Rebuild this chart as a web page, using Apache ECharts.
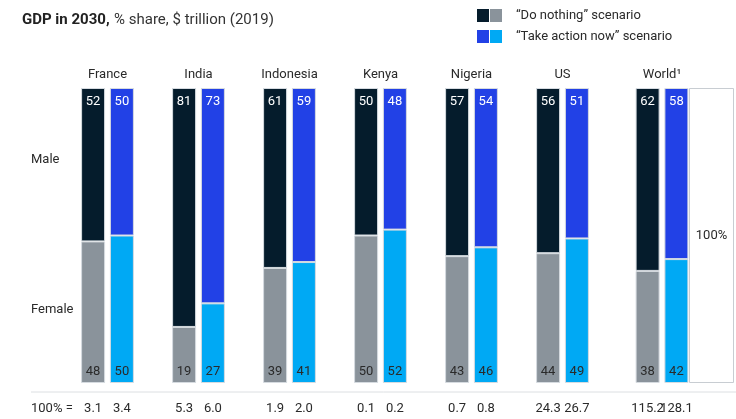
<!DOCTYPE html>
<html>
<head>
<meta charset="utf-8">
<script src="https://cdn.jsdelivr.net/npm/echarts@6/dist/echarts.min.js"></script>
<style>
html,body{margin:0;padding:0;background:#fff;}
#chart{width:736px;height:419px;}
</style>
</head>
<body>
<div id="chart"></div>
<script>
// ---- data ----
const categories = ['France', 'India', 'Indonesia', 'Kenya', 'Nigeria', 'US', 'World¹'];
const doNothingMale = [52, 81, 61, 50, 57, 56, 62];
const doNothingFemale = [48, 19, 39, 50, 43, 44, 38];
const takeActionMale = [50, 73, 59, 48, 54, 51, 58];
const takeActionFemale = [50, 27, 41, 52, 46, 49, 42];
const doNothingTotal = ['3.1', '5.3', '1.9', '0.1', '0.7', '24.3', '115.2'];
const takeActionTotal = ['3.4', '6.0', '2.0', '0.2', '0.8', '26.7', '128.1'];
const fullShare = [100];

// ---- styles ----
const FONT = 'Roboto';
const FONTCSS = '13px Roboto';
const C_NAVY = '#051c2c', C_GRAY = '#8a939b', C_BLUE = '#2241e6', C_LBLUE = '#00a9f4';
const BORDER = '#d6dbe0';
const TXT = '#2a2a2a';

const nC = categories.length - 1; // countries in main grid
function makeSeries(axisIdx, from, to) {
  const sl = a => a.slice(from, to);
  const base = { type: 'bar', xAxisIndex: axisIdx, yAxisIndex: axisIdx, barWidth: 24, barGap: '20%' };
  const totalLbl = (arr) => ({ show: true, position: 'bottom', distance: 19, color: TXT, fontSize: 13, fontFamily: FONT,
    formatter: p => arr[from + p.dataIndex] });
  const inTop = { show: true, position: 'insideTop', distance: 7, color: '#fff', fontSize: 13, fontFamily: FONT };
  const inBot = { show: true, position: 'insideBottom', distance: 5, color: TXT, fontSize: 13, fontFamily: FONT };
  return [
    Object.assign({}, base, { name: 'dnT', stack: 'dn' + axisIdx, data: sl(doNothingTotal).map(() => 0),
      itemStyle: { color: 'transparent', borderWidth: 0 }, label: totalLbl(doNothingTotal), silent: true }),
    Object.assign({}, base, { name: 'dnF', stack: 'dn' + axisIdx, data: sl(doNothingFemale),
      itemStyle: { color: C_GRAY, borderColor: BORDER, borderWidth: 1 }, label: inBot }),
    Object.assign({}, base, { name: 'dnM', stack: 'dn' + axisIdx, data: sl(doNothingMale),
      itemStyle: { color: C_NAVY, borderColor: BORDER, borderWidth: 1 }, label: inTop }),
    Object.assign({}, base, { name: 'taT', stack: 'ta' + axisIdx, data: sl(takeActionTotal).map(() => 0),
      itemStyle: { color: 'transparent', borderWidth: 0 }, label: totalLbl(takeActionTotal), silent: true }),
    Object.assign({}, base, { name: 'taF', stack: 'ta' + axisIdx, data: sl(takeActionFemale),
      itemStyle: { color: C_LBLUE, borderColor: BORDER, borderWidth: 1 }, label: inBot }),
    Object.assign({}, base, { name: 'taM', stack: 'ta' + axisIdx, data: sl(takeActionMale),
      itemStyle: { color: C_BLUE, borderColor: BORDER, borderWidth: 1 }, label: inTop }),
  ];
}

const xAxisCommon = {
  type: 'category', position: 'top',
  axisLine: { show: false }, axisTick: { show: false },
  axisLabel: { color: TXT, fontSize: 13, fontFamily: FONT, margin: 7 }
};
const yAxisCommon = { type: 'value', min: 0, max: 100, show: false };

const option = {
  animation: false,
  textStyle: { fontFamily: FONT },
  title: {
    left: 17, top: 6,
    text: '{b|GDP in 2030,} {r|% share, $ trillion (2019)}',
    textStyle: { fontWeight: 'normal', rich: {
      b: { fontWeight: 'bold', fontSize: 15, color: '#222', fontFamily: FONT },
      r: { fontWeight: 'normal', fontSize: 15, color: '#333', fontFamily: FONT }
    } }
  },
  grid: [
    { left: 62, width: 91 * nC, top: 88, height: 295 },
    { left: 616.5, width: 91, top: 88, height: 295 },
    { left: 689, width: 45, top: 88, height: 295 }
  ],
  xAxis: [
    Object.assign({ gridIndex: 0, data: categories.slice(0, nC) }, xAxisCommon),
    Object.assign({ gridIndex: 1, data: categories.slice(nC) }, xAxisCommon),
    Object.assign({}, xAxisCommon, { gridIndex: 2, data: [''], axisLabel: { show: false } })
  ],
  yAxis: [
    Object.assign({ gridIndex: 0 }, yAxisCommon),
    Object.assign({ gridIndex: 1 }, yAxisCommon),
    Object.assign({ gridIndex: 2 }, yAxisCommon)
  ],
  series: [
    ...makeSeries(0, 0, nC),
    ...makeSeries(1, nC, categories.length),
    { type: 'bar', xAxisIndex: 2, yAxisIndex: 2, data: fullShare, barWidth: '100%',
      itemStyle: { color: '#fff', borderColor: '#c8cdd2', borderWidth: 1 },
      label: { show: true, position: 'inside', formatter: '100%', color: TXT, fontSize: 13, fontFamily: FONT } }
  ],
  graphic: [
    // legend
    { type: 'rect', shape: { x: 477, y: 9, width: 12, height: 13 }, style: { fill: C_NAVY } },
    { type: 'rect', shape: { x: 490, y: 9, width: 12, height: 13 }, style: { fill: C_GRAY } },
    { type: 'text', x: 516, y: 16, style: { text: '“Do nothing” scenario', fill: TXT, font: FONTCSS, textVerticalAlign: 'middle' } },
    { type: 'rect', shape: { x: 477, y: 30, width: 12, height: 13 }, style: { fill: C_BLUE } },
    { type: 'rect', shape: { x: 490, y: 30, width: 12, height: 13 }, style: { fill: C_LBLUE } },
    { type: 'text', x: 516, y: 37, style: { text: '“Take action now” scenario', fill: TXT, font: FONTCSS, textVerticalAlign: 'middle' } },
    // row labels
    { type: 'text', x: 31, y: 160, style: { text: 'Male', fill: TXT, font: FONTCSS, textVerticalAlign: 'middle' } },
    { type: 'text', x: 31, y: 310, style: { text: 'Female', fill: TXT, font: FONTCSS, textVerticalAlign: 'middle' } },
    // bottom rule and totals caption
    { type: 'line', shape: { x1: 31, y1: 392, x2: 736, y2: 392 }, style: { stroke: '#dcdfe2', lineWidth: 1 } },
    { type: 'text', x: 31, y: 409, style: { text: '100% =', fill: TXT, font: FONTCSS, textVerticalAlign: 'middle' } }
  ]
};

const chart = echarts.init(document.getElementById('chart'), null, { renderer: 'canvas' });
chart.setOption(option);
</script>
</body>
</html>
